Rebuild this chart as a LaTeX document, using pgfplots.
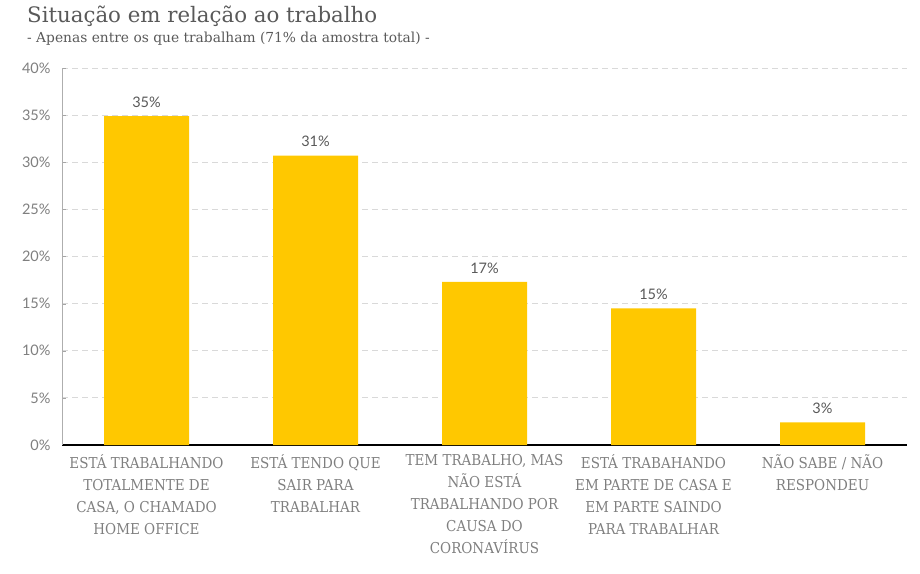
\documentclass[border=0pt]{standalone}
\usepackage{fontspec}
\setmainfont{DejaVu Serif}
\newfontfamily\labfont{DejaVu Serif Condensed}
\newfontfamily\numfont{Lato}
\usepackage{pgfplots}
\pgfplotsset{compat=1.18}
\definecolor{baryel}{HTML}{FFC800}
\definecolor{tgray}{HTML}{595959}
\definecolor{ngray}{HTML}{7F7F7F}
\definecolor{ggray}{HTML}{D9D9D9}
\begin{document}
\begin{tikzpicture}[x=1pt,y=1pt]
\path[use as bounding box] (0,0) rectangle (920,573);
\node[anchor=base west,inner sep=0,text=tgray,font=\fontsize{21.3}{25}\selectfont] at (27,550) {Situação em relação ao trabalho};
\node[anchor=base west,inner sep=0,text=tgray,font=\fontsize{13.8}{16}\selectfont] at (27,530) {- Apenas entre os que trabalham (71\% da amostra total) -};
\begin{axis}[
  at={(62pt,128pt)}, anchor=south west,
  scale only axis, width=845pt, height=377pt,
  xmin=-0.5, xmax=4.5, ymin=0, ymax=40,
  ytick={0,5,...,40},
  yticklabel={\pgfmathprintnumber{\tick}\%},
  /pgf/number format/assume math mode=true,
  yticklabel style={font=\numfont\fontsize{14.5}{16}\selectfont, text=ngray, xshift=-8pt},
  xtick=data,
  xticklabels={{ESTÁ TRABALHANDO\\TOTALMENTE DE\\CASA, O CHAMADO\\HOME OFFICE},
               {ESTÁ TENDO QUE\\SAIR PARA\\TRABALHAR},
               {TEM TRABALHO, MAS\\NÃO ESTÁ\\TRABALHANDO POR\\CAUSA DO\\CORONAVÍRUS},
               {ESTÁ TRABAHANDO\\EM PARTE DE CASA E\\EM PARTE SAINDO\\PARA TRABALHAR},
               {NÃO SABE / NÃO\\RESPONDEU}},
  xticklabel style={font=\labfont\fontsize{15}{22}\selectfont, text=ngray, align=center, yshift=-2pt},
  major x tick style={draw=none},
  major y tick style={draw=ngray!70},
  major tick length=4pt,
  ymajorgrids, grid style={ggray, dash pattern=on 6pt off 4pt, line width=0.9pt},
  axis x line*=bottom, axis y line*=left,
  x axis line style={black, line width=1.2pt, -},
  y axis line style={ggray!80!black, line width=0.6pt, -},
  ybar, bar width=85pt,
  point meta=explicit symbolic,
  nodes near coords,
  nodes near coords style={font=\numfont\fontsize{14.5}{16}\selectfont, text=tgray, yshift=5pt},
  clip=false,
]
\addplot[fill=baryel, draw=none] coordinates {
  (0,34.9) [35\%]
  (1,30.7) [31\%]
  (2,17.3) [17\%]
  (3,14.5) [15\%]
  (4,2.4) [3\%]
};
\end{axis}
\end{tikzpicture}
\end{document}
